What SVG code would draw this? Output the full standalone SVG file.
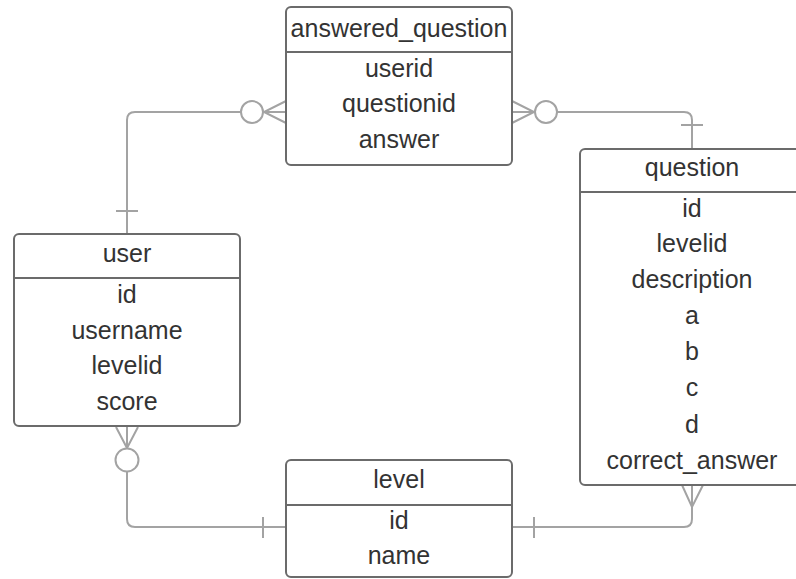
<svg xmlns="http://www.w3.org/2000/svg" width="796" height="579" viewBox="0 0 796 579">
<style>
.box{fill:#fff;stroke:#6b6b6b;stroke-width:2}
.sep{stroke:#6b6b6b;stroke-width:2}
.t{font-family:"Liberation Sans",Arial,sans-serif;font-size:25px;fill:#333;text-anchor:middle}
.c{fill:none;stroke:#a3a3a3;stroke-width:2}
.o{fill:#fff;stroke:#a3a3a3;stroke-width:2}
</style>
<rect width="796" height="579" fill="#fff"/>
<g id="connectors">
  <path class="c" d="M127,234 V120 Q127,112 135,112 H286"/>
  <path class="c" d="M116,211 H138"/>
  <circle class="o" cx="252" cy="112" r="11"/>
  <path class="c" d="M286,101 L264,112 L286,123 M264,112 H286"/>
  <path class="c" d="M512,112 H684 Q692,112 692,120 V149"/>
  <path class="c" d="M681,125 H703"/>
  <circle class="o" cx="546" cy="112" r="11"/>
  <path class="c" d="M512,101 L534,112 L512,123 M534,112 H512"/>
  <path class="c" d="M127,427 V519 Q127,527 135,527 H286"/>
  <path class="c" d="M116,427 L127,448 L138,427 M127,427 V448"/>
  <circle class="o" cx="127" cy="460" r="11.5"/>
  <path class="c" d="M263,517 V538"/>
  <path class="c" d="M512,527 H684 Q692,527 692,519 V485"/>
  <path class="c" d="M682,485 L692,507 L703,485 M692,485 V507"/>
  <path class="c" d="M534,517 V538"/>
</g>
<g id="answered_question">
  <rect class="box" x="286" y="7" width="226" height="158" rx="5"/>
  <line class="sep" x1="286" y1="52" x2="512" y2="52"/>
  <text class="t" x="399" y="37">answered_question</text>
  <text class="t" x="399" y="77">userid</text>
  <text class="t" x="399" y="112">questionid</text>
  <text class="t" x="399" y="148">answer</text>
</g>
<g id="user">
  <rect class="box" x="14" y="234" width="226" height="192" rx="5"/>
  <line class="sep" x1="14" y1="278" x2="240" y2="278"/>
  <text class="t" x="127" y="262">user</text>
  <text class="t" x="127" y="303">id</text>
  <text class="t" x="127" y="339">username</text>
  <text class="t" x="127" y="374">levelid</text>
  <text class="t" x="127" y="410">score</text>
</g>
<g id="question">
  <rect class="box" x="580" y="149" width="226" height="336" rx="5"/>
  <line class="sep" x1="580" y1="192" x2="806" y2="192"/>
  <text class="t" x="692" y="176">question</text>
  <text class="t" x="692" y="217">id</text>
  <text class="t" x="692" y="252">levelid</text>
  <text class="t" x="692" y="288">description</text>
  <text class="t" x="692" y="324">a</text>
  <text class="t" x="692" y="360">b</text>
  <text class="t" x="692" y="396">c</text>
  <text class="t" x="692" y="433">d</text>
  <text class="t" x="692" y="469">correct_answer</text>
</g>
<g id="level">
  <rect class="box" x="286" y="460" width="226" height="117" rx="5"/>
  <line class="sep" x1="286" y1="505" x2="512" y2="505"/>
  <text class="t" x="399" y="488">level</text>
  <text class="t" x="399" y="529">id</text>
  <text class="t" x="399" y="564">name</text>
</g>
</svg>
